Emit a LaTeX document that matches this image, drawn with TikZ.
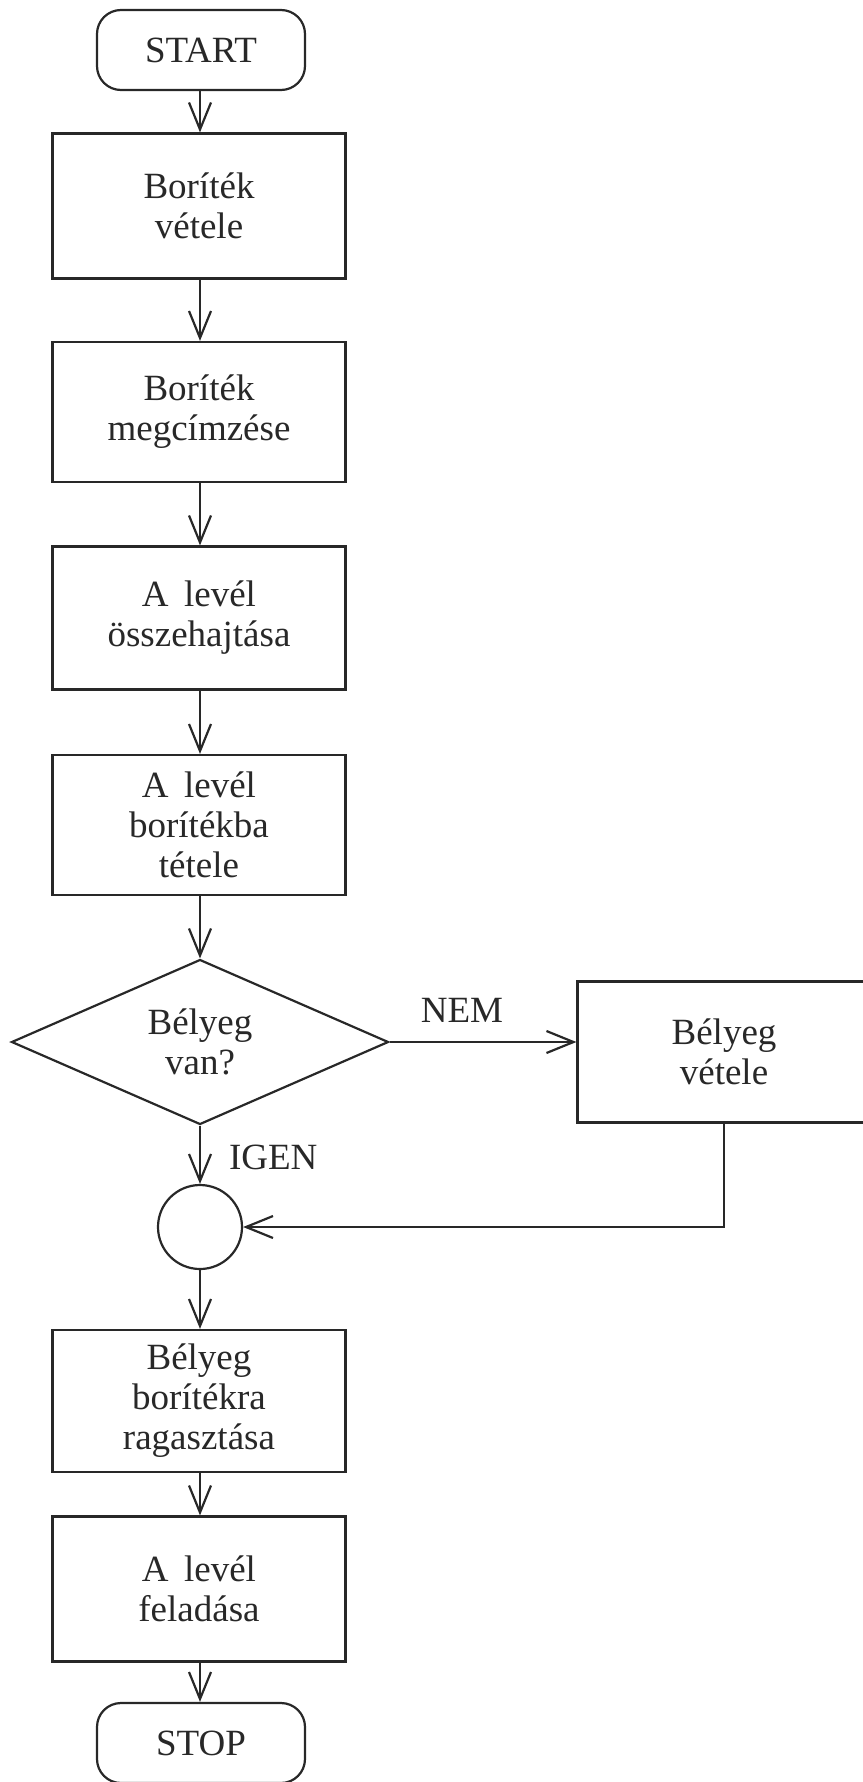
\documentclass[tikz,border=0pt]{standalone}
\usepackage{fontspec}
\setmainfont{Liberation Serif}
\usetikzlibrary{arrows.meta,shapes.geometric}
\definecolor{ink}{RGB}{40,40,40}
\begin{document}
\begin{tikzpicture}[x=1pt,y=-1pt,
  font=\fontsize{37}{40}\selectfont,
  line width=2.2pt,
  base/.style={draw=ink, text=ink, align=center, inner sep=0pt},
  terminal/.style={base, rounded corners=24pt, minimum width=208pt, minimum height=80pt},
  stepbox/.style={base, minimum width=293pt},
  decision/.style={base, diamond, aspect=2.3, minimum width=377pt, minimum height=165pt},
  joint/.style={base, circle, minimum size=84pt},
  label/.style={text=ink, inner sep=0pt},
  flow/.style={draw=ink, -{Straight Barb[length=27pt, width=22pt]}}]
\useasboundingbox (0,0) rectangle (862,1782);

% main column
\node[terminal] (start) at (201,50) {START};
\node[stepbox, minimum height=145pt] (b1) at (199,206) {Boríték\\vétele};
\node[stepbox, minimum height=140pt] (b2) at (199,412) {Boríték\\megcímzése};
\node[stepbox, minimum height=143pt] (b3) at (199,618) {A\, levél\\összehajtása};
\node[stepbox, minimum height=140pt] (b4) at (199,825) {A\, levél\\borítékba\\tétele};
\node[decision] (dec) at (200,1042) {Bélyeg\\van?};
\node[stepbox, minimum height=141pt] (buy) at (724,1052) {Bélyeg\\vétele};
\node[joint] (join) at (200,1227) {};
\node[stepbox, minimum height=142pt] (b5) at (199,1401) {Bélyeg\\borítékra\\ragasztása};
\node[stepbox, minimum height=145pt] (b6) at (199,1589) {A\, levél\\feladása};
\node[terminal] (stop) at (201,1743) {STOP};

% branch labels
\node[label] (nem) at (462,1010) {NEM};
\node[label, anchor=west] (igen) at (228,1157) {IGEN};

% connectors
\draw[flow] (start.south -| 200,0) -- (b1.north -| 200,0);
\draw[flow] (b1.south -| 200,0) -- (b2.north -| 200,0);
\draw[flow] (b2.south -| 200,0) -- (b3.north -| 200,0);
\draw[flow] (b3.south -| 200,0) -- (b4.north -| 200,0);
\draw[flow] (b4.south -| 200,0) -- (dec.north);
\draw[flow] (dec.east) -- (dec.east -| buy.west);
\draw[flow] (dec.south) -- (join.north);
\draw[flow] (buy.south) |- (join.east);
\draw[flow] (join.south) -- (b5.north -| 200,0);
\draw[flow] (b5.south -| 200,0) -- (b6.north -| 200,0);
\draw[flow] (b6.south -| 200,0) -- (stop.north -| 200,0);
\end{tikzpicture}
\end{document}
